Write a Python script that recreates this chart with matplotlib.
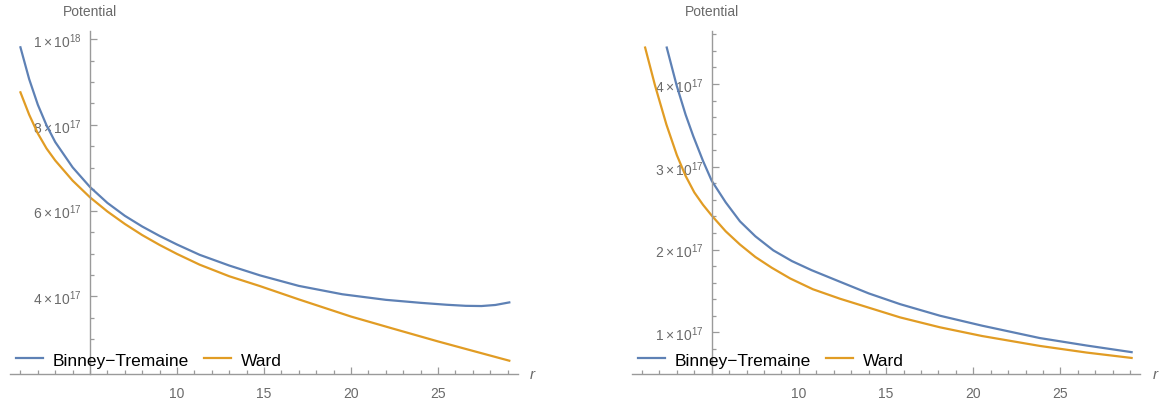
import matplotlib
matplotlib.use("Agg")
import matplotlib.pyplot as plt
from matplotlib.ticker import FixedLocator, MultipleLocator, FuncFormatter

plt.rcParams['font.family'] = ['Liberation Sans', 'DejaVu Sans']
plt.rcParams['mathtext.fontset'] = 'custom'
plt.rcParams['mathtext.rm'] = 'Liberation Sans'
plt.rcParams['mathtext.it'] = 'Liberation Sans:italic'

# ---------------- data ----------------
# Left panel
r_bt_left = [1.0, 1.5, 2.0, 2.5, 3.0, 4.0, 5.0, 6.0, 7.0, 8.0, 9.0, 10.0, 11.3, 13.0,
             14.77, 17.0, 19.5, 22.0, 24.0, 25.5, 26.6, 27.5, 28.3, 29.1]
v_bt_left = [9.81e17, 9.07e17, 8.47e17, 7.99e17, 7.60e17, 7.01e17, 6.55e17, 6.18e17,
             5.88e17, 5.63e17, 5.41e17, 5.21e17, 4.97e17, 4.72e17, 4.49e17, 4.245e17,
             4.05e17, 3.92e17, 3.85e17, 3.805e17, 3.78e17, 3.775e17, 3.80e17, 3.86e17]
r_w_left = [1.0, 1.5, 2.0, 2.5, 3.0, 4.0, 5.0, 6.0, 7.0, 8.0, 9.0, 10.0, 11.3, 13.0,
            14.77, 17.0, 20.0, 22.4, 25.0, 27.0, 29.1]
v_w_left = [8.76e17, 8.24e17, 7.80e17, 7.45e17, 7.17e17, 6.70e17, 6.31e17, 5.98e17,
            5.69e17, 5.43e17, 5.20e17, 4.99e17, 4.74e17, 4.47e17, 4.24e17, 3.93e17,
            3.53e17, 3.25e17, 2.95e17, 2.73e17, 2.50e17]

# Right panel
r_bt_right = [2.42, 2.99, 3.5, 3.94, 4.5, 5.0, 5.8, 6.62, 7.5, 8.53, 9.6, 10.73, 12.36,
              14.0, 15.8, 18.09, 20.5, 23.82, 26.5, 29.08]
v_bt_right = [4.44e17, 3.98e17, 3.63e17, 3.37e17, 3.07e17, 2.83e17, 2.57e17, 2.34e17,
              2.16e17, 1.99e17, 1.86e17, 1.75e17, 1.61e17, 1.47e17, 1.34e17, 1.20e17,
              1.08e17, 0.93e17, 0.84e17, 0.76e17]
r_w_right = [1.18, 1.75, 2.4, 3.0, 3.5, 4.0, 4.5, 5.0, 5.8, 6.62, 7.5, 8.44, 9.5, 10.8,
             12.36, 15.8, 18.09, 20.5, 23.82, 26.5, 29.08]
v_w_right = [4.44e17, 3.98e17, 3.51e17, 3.14e17, 2.89e17, 2.69e17, 2.54e17, 2.41e17,
             2.22e17, 2.06e17, 1.91e17, 1.78e17, 1.65e17, 1.52e17, 1.405e17, 1.18e17,
             1.06e17, 0.955e17, 0.835e17, 0.755e17, 0.69e17]

series_names = ["Binney\u2212Tremaine", "Ward"]
x_major_ticks = [10, 15, 20, 25]
left_y_ticks = [4e17, 6e17, 8e17, 1e18]
left_y_labels = [r"$4\times10^{17}$", r"$6\times10^{17}$", r"$8\times10^{17}$", r"$1\times10^{18}$"]
right_y_ticks = [1e17, 2e17, 3e17, 4e17]
right_y_labels = [r"$1\times10^{17}$", r"$2\times10^{17}$", r"$3\times10^{17}$", r"$4\times10^{17}$"]

BLUE = "#5E81B5"
ORANGE = "#E19C24"
AXC = "#9a9a9a"
LABC = "#6a6a6a"
LW = 1.6

W, H = 1175, 406
fig = plt.figure(figsize=(W / 100, H / 100), dpi=100)


def px_axes(x0, x1, ytop, ybot):
    return fig.add_axes([x0 / W, 1 - ybot / H, (x1 - x0) / W, (ybot - ytop) / H])


def style(ax, xlim, ylim, yticks, ylabels, yminor, rx, axis_px):
    ax.set_xlim(*xlim)
    ax.set_ylim(*ylim)
    for s in ["top", "right"]:
        ax.spines[s].set_visible(False)
    ax.spines["left"].set_position(("data", 5))
    for s in ["left", "bottom"]:
        ax.spines[s].set_color(AXC)
        ax.spines[s].set_linewidth(1.0)
    ax.xaxis.set_major_locator(FixedLocator(x_major_ticks))
    ax.xaxis.set_minor_locator(MultipleLocator(1))
    ax.yaxis.set_major_locator(FixedLocator(yticks))
    ax.yaxis.set_major_formatter(FuncFormatter(lambda v, p: ylabels[yticks.index(v)] if v in yticks else ""))
    ax.yaxis.set_minor_locator(MultipleLocator(yminor))
    ax.tick_params(which="both", direction="in", color=AXC, width=0.9, labelcolor=LABC,
                   labelsize=10)
    ax.tick_params(which="major", length=5)
    ax.tick_params(which="minor", length=3)
    ax.tick_params(axis="x", which="major", pad=9)
    ax.tick_params(axis="y", which="major", pad=6)
    ax.patch.set_alpha(0)
    fig.text(axis_px / W, 1 - 12 / H, "Potential", ha="center", va="center",
             color=LABC, fontsize=10)
    fig.text(rx / W, 1 - 375 / H, "r", ha="left", va="center", color=LABC,
             fontsize=11, style="italic")


def legend(ax, x_px):
    ax.legend(loc="center left", bbox_to_anchor=(x_px / W, 1 - 361 / H),
              bbox_transform=fig.transFigure, ncol=2, frameon=False, borderpad=0,
              borderaxespad=0, handlelength=1.55, handletextpad=0.55,
              columnspacing=0.9, fontsize=12.5)


# Left panel
axL = px_axes(10, 518, 32, 375)
axL.plot(r_bt_left, v_bt_left, color=BLUE, lw=LW, label=series_names[0])
axL.plot(r_w_left, v_w_left, color=ORANGE, lw=LW, label=series_names[1])
style(axL, (0.40, 29.6), (2.19e17, 10.19e17), left_y_ticks, left_y_labels, 0.5e17, 530, 90)
legend(axL, 16)

# Right panel
axR = px_axes(631.7, 1140, 32, 375)
axR.plot(r_bt_right, v_bt_right, color=BLUE, lw=LW, label=series_names[0])
axR.plot(r_w_right, v_w_right, color=ORANGE, lw=LW, label=series_names[1])
style(axR, (0.41, 29.56), (0.496e17, 4.64e17), right_y_ticks, right_y_labels, 0.2e17, 1153, 711.7)
legend(axR, 638)

fig.savefig("out.png", dpi=100)
